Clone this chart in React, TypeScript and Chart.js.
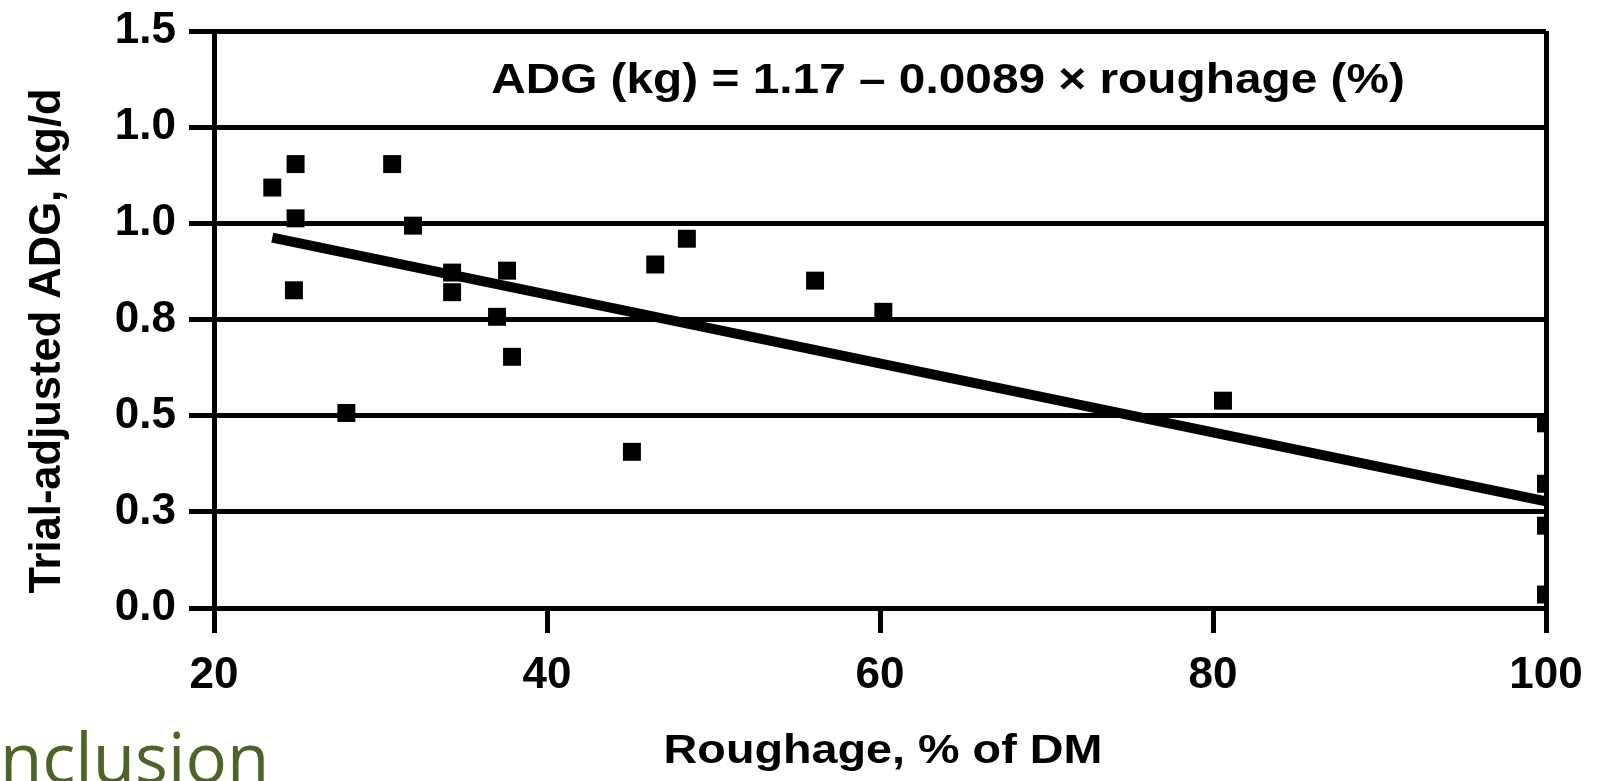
import React, { useEffect, useRef } from "react";
import { Chart, registerables } from "chart.js";

Chart.register(...registerables);

// Observed data: roughage (% of DM) vs trial-adjusted ADG (kg/d)
const roughagePct = [23.5, 24.9, 24.9, 24.8, 27.95, 30.7, 31.95, 34.3, 34.3, 37.0, 37.6, 37.9, 45.1, 46.5, 48.4, 56.1, 60.2, 80.6, 100, 100, 100, 100];
const adgValues = [1.093, 1.154, 1.013, 0.826, 0.507, 1.154, 0.994, 0.872, 0.821, 0.757, 0.877, 0.653, 0.406, 0.893, 0.96, 0.851, 0.77, 0.539, 0.48, 0.323, 0.214, 0.035];

// Regression line end points
const fitX = [23.5, 100];
const fitY = [0.963, 0.277];

// Axis ticks
const xTicks = [20, 40, 60, 80, 100];
const yTickValues = [0, 0.25, 0.5, 0.75, 1.0, 1.25, 1.5];
const yTickLabels = ["0.0", "0.3", "0.5", "0.8", "1.0", "1.0", "1.5"];

const equationText = "ADG (kg) = 1.17 \u2013 0.0089 \u00d7 roughage (%)";
const xTitle = "Roughage, % of DM";
const yTitle = "Trial-adjusted ADG, kg/d";
const footerText = "nclusion";

const ARIAL = "'Liberation Sans', Arial, sans-serif";

export default function App() {
  const ref = useRef<HTMLCanvasElement | null>(null);

  useEffect(() => {
    if (!ref.current) return;
    const textPlugin = {
      id: "extraText",
      afterDraw(chart: any) {
        const ctx = chart.ctx;
        ctx.save();
        ctx.fillStyle = "#000";
        ctx.textAlign = "center";
        ctx.textBaseline = "middle";
        ctx.font = `bold 42px ${ARIAL}`;
        ctx.translate(948, 81);
        ctx.scale(1.138, 1);
        ctx.fillText(equationText, 0, 0);
        ctx.restore();

        ctx.save();
        ctx.fillStyle = "#000";
        ctx.textAlign = "center";
        ctx.textBaseline = "middle";
        ctx.font = `bold 41px ${ARIAL}`;
        ctx.translate(883, 752);
        ctx.scale(1.14, 1);
        ctx.fillText(xTitle, 0, 0);
        ctx.restore();

        ctx.save();
        ctx.fillStyle = "#000";
        ctx.textAlign = "center";
        ctx.textBaseline = "middle";
        ctx.font = `bold 43.5px ${ARIAL}`;
        ctx.translate(47.5, 341);
        ctx.rotate(-Math.PI / 2);
        ctx.fillText(yTitle, 0, 0);
        ctx.restore();
      },
    };

    const chart = new Chart(ref.current, {
      type: "scatter",
      data: {
        datasets: [
          {
            label: "fit",
            data: fitX.map((x, i) => ({ x, y: fitY[i] })),
            showLine: true,
            borderColor: "#000",
            borderWidth: 10,
            pointRadius: 0,
            borderCapStyle: "butt",
            order: 2,
          },
          {
            label: "obs",
            data: roughagePct.map((x, i) => ({ x, y: adgValues[i] })),
            pointStyle: "rect",
            pointRadius: 12.7,
            backgroundColor: "#000",
            borderColor: "#000",
            borderWidth: 0,
            showLine: false,
            order: 1,
          },
        ],
      },
      options: {
        animation: false,
        responsive: true,
        maintainAspectRatio: false,
        layout: { padding: { left: 0, top: 31, right: 61, bottom: 0 } },
        plugins: { legend: { display: false }, tooltip: { enabled: false } },
        scales: {
          x: {
            type: "linear",
            min: 20,
            max: 100,
            afterBuildTicks: (scale: any) => {
              scale.ticks = xTicks.map((v) => ({ value: v }));
            },
            afterFit: (scale: any) => {
              scale.height = 173;
              scale.paddingLeft = 0;
              scale.paddingRight = 0;
            },
            ticks: {
              color: "#000",
              font: { family: ARIAL, size: 44, weight: "bold" },
              padding: 16,
              maxRotation: 0,
              autoSkip: false,
            },
            grid: {
              color: (c: any) => (c.tick && c.tick.value === 100 ? "#000" : "rgba(0,0,0,0)"),
              tickColor: "#000",
              lineWidth: 5,
              tickLength: 25,
              drawTicks: true,
            },
            border: { display: true, color: "#000", width: 5 },
          },
          y: {
            type: "linear",
            min: 0,
            max: 1.5,
            afterBuildTicks: (scale: any) => {
              scale.ticks = yTickValues.map((v) => ({ value: v }));
            },
            afterFit: (scale: any) => {
              scale.width = 214;
              scale.paddingTop = 0;
              scale.paddingBottom = 0;
            },
            ticks: {
              color: "#000",
              font: { family: ARIAL, size: 44, weight: "bold" },
              padding: 13,
              autoSkip: false,
              callback: (_v: any, i: number) => yTickLabels[i],
            },
            grid: {
              color: "#000",
              lineWidth: 5,
              tickLength: 25,
              drawTicks: true,
            },
            border: { display: true, color: "#000", width: 5 },
          },
        },
      },
      plugins: [textPlugin],
    } as any);
    return () => chart.destroy();
  }, []);

  return (
    <div style={{ position: "absolute", left: 0, top: 0, width: 1607, height: 781, background: "#fff", overflow: "hidden" }}>
      <canvas ref={ref} />
      <div
        style={{
          position: "absolute",
          left: 0,
          top: 716,
          fontFamily: "'Open Sans', 'Noto Sans', sans-serif",
          fontSize: 69,
          lineHeight: "80px",
          color: "#4F6228",
          whiteSpace: "nowrap",
        }}
      >
        {footerText}
      </div>
    </div>
  );
}
